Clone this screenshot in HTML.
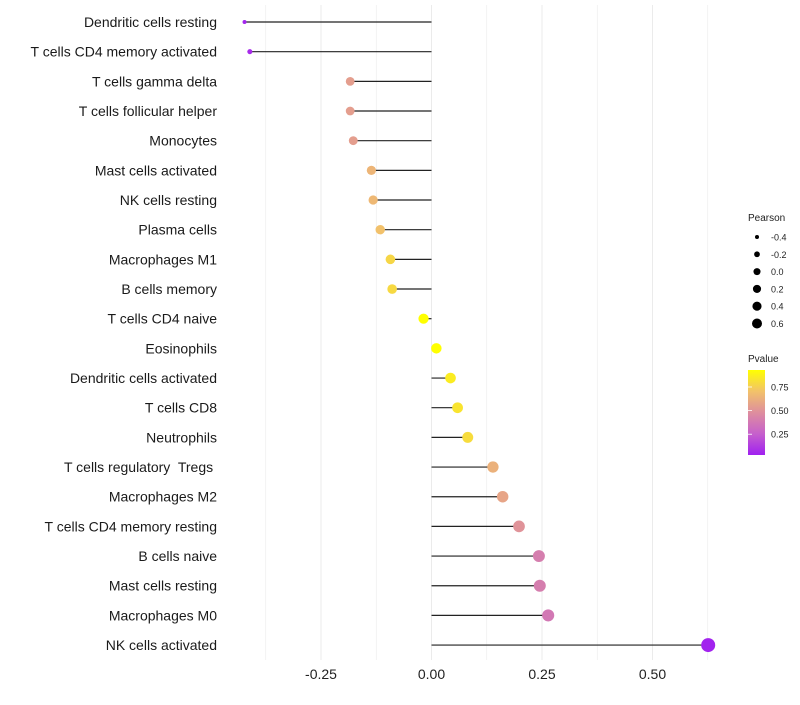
<!DOCTYPE html>
<html><head><meta charset="utf-8"><style>
body{margin:0;background:#fff;font-family:"Liberation Sans",sans-serif}
svg text{font-family:"Liberation Sans",sans-serif;white-space:pre}
</style></head><body>
<svg id="chart" width="800" height="700">
<defs><linearGradient id="pg" x1="0" y1="1" x2="0" y2="0">
<stop offset="0" stop-color="#A020F0"/><stop offset="0.25" stop-color="#C660CC"/>
<stop offset="0.5" stop-color="#DE8E9E"/><stop offset="0.75" stop-color="#F2C26A"/>
<stop offset="1" stop-color="#FFFF00"/></linearGradient></defs>
<g id="grid"></g><g id="marks"></g><g id="labels"></g><g id="legend"></g>
</svg>
<script>
const categories=["Dendritic cells resting","T cells CD4 memory activated","T cells gamma delta","T cells follicular helper","Monocytes","Mast cells activated","NK cells resting","Plasma cells","Macrophages M1","B cells memory","T cells CD4 naive","Eosinophils","Dendritic cells activated","T cells CD8","Neutrophils","T cells regulatory  Tregs ","Macrophages M2","T cells CD4 memory resting","B cells naive","Mast cells resting","Macrophages M0","NK cells activated"];
const pearson=[-0.423,-0.411,-0.184,-0.184,-0.177,-0.136,-0.132,-0.116,-0.093,-0.089,-0.018,0.011,0.043,0.059,0.082,0.139,0.161,0.198,0.243,0.245,0.264,0.626];
const pvalue=[0.05,0.07,0.55,0.55,0.55,0.65,0.66,0.7,0.78,0.79,0.93,0.93,0.86,0.83,0.8,0.63,0.58,0.5,0.4,0.4,0.37,0.04];
const xTicks=[-0.25,0,0.25,0.5];
const xTickLabels=["-0.25","0.00","0.25","0.50"];
const sizeLegend=[-0.4,-0.2,0.0,0.2,0.4,0.6];
const sizeLegendLabels=["-0.4","-0.2","0.0","0.2","0.4","0.6"];
const pLegend=[0.25,0.5,0.75];
const pLegendLabels=["0.25","0.50","0.75"];
const NS="http://www.w3.org/2000/svg";
const x=v=>431.5+v*442;
const y=i=>22+i*29.67;
const r=v=>2+5*Math.sqrt(Math.max(0,(v+0.423)/1.049));
const rl=v=>Math.sqrt(4+(v+0.4)*21);
const stops=[[0,[160,32,240]],[0.25,[198,96,204]],[0.5,[222,142,158]],[0.75,[242,194,106]],[1,[255,255,0]]];
function col(p){let t=(p-0.03)/0.9;t=Math.max(0,Math.min(1,t));for(let k=1;k<stops.length;k++){if(t<=stops[k][0]){const a=stops[k-1],b=stops[k];const f=(t-a[0])/(b[0]-a[0]);return "rgb("+a[1].map((c,j)=>Math.round(c+(b[1][j]-c)*f)).join(",")+")";}}return "rgb(255,255,0)";}
function mk(tag,at,parent){const e=document.createElementNS(NS,tag);for(const k in at)e.setAttribute(k,at[k]);document.getElementById(parent).appendChild(e);return e;}
for(let v=-0.375;v<=0.63;v+=0.125){const g=mk("line",{x1:x(v),x2:x(v),y1:5,y2:660,stroke:"#ebebeb","stroke-width":Math.abs(v/0.25-Math.round(v/0.25))<1e-6?1:0.6},"grid");

}
xTicks.forEach((v,i)=>{const t=mk("text",{x:x(v),y:679,"text-anchor":"middle","font-size":"14",fill:"#222"},"labels");t.textContent=xTickLabels[i];

});
categories.forEach((c,i)=>{
const l=mk("line",{x1:x(0),x2:x(pearson[i]),y1:y(i),y2:y(i),stroke:"#222","stroke-width":1.2},"marks");


const d=mk("circle",{cx:x(pearson[i]),cy:y(i),r:r(pearson[i]),fill:col(pvalue[i])},"marks");


const t=mk("text",{x:217,y:y(i)+5,"text-anchor":"end","font-size":"14",fill:"#1a1a1a"},"labels");t.textContent=c;


});
let t=mk("text",{x:748,y:221,"font-size":"10",fill:"#222"},"legend");t.textContent="Pearson";


sizeLegend.forEach((v,i)=>{const cy=237+i*17.3;
const c=mk("circle",{cx:757,cy:cy,r:rl(v),fill:"#000"},"legend");


const tt=mk("text",{x:771,y:cy+3.5,"font-size":"9",fill:"#222"},"legend");tt.textContent=sizeLegendLabels[i];

});
t=mk("text",{x:748,y:362,"font-size":"10",fill:"#222"},"legend");t.textContent="Pvalue";


const bar=mk("rect",{x:748,y:370,width:17,height:85,fill:"url(#pg)"},"legend");


pLegend.forEach((v,i)=>{const py=455-(v-0.03)/0.9*85;
const tk=mk("line",{x1:748,x2:752,y1:py,y2:py,stroke:"#fff","stroke-width":0.8},"legend");


const tt=mk("text",{x:771,y:py+3.5,"font-size":"9",fill:"#222"},"legend");tt.textContent=pLegendLabels[i];

});
</script>
</body></html>
